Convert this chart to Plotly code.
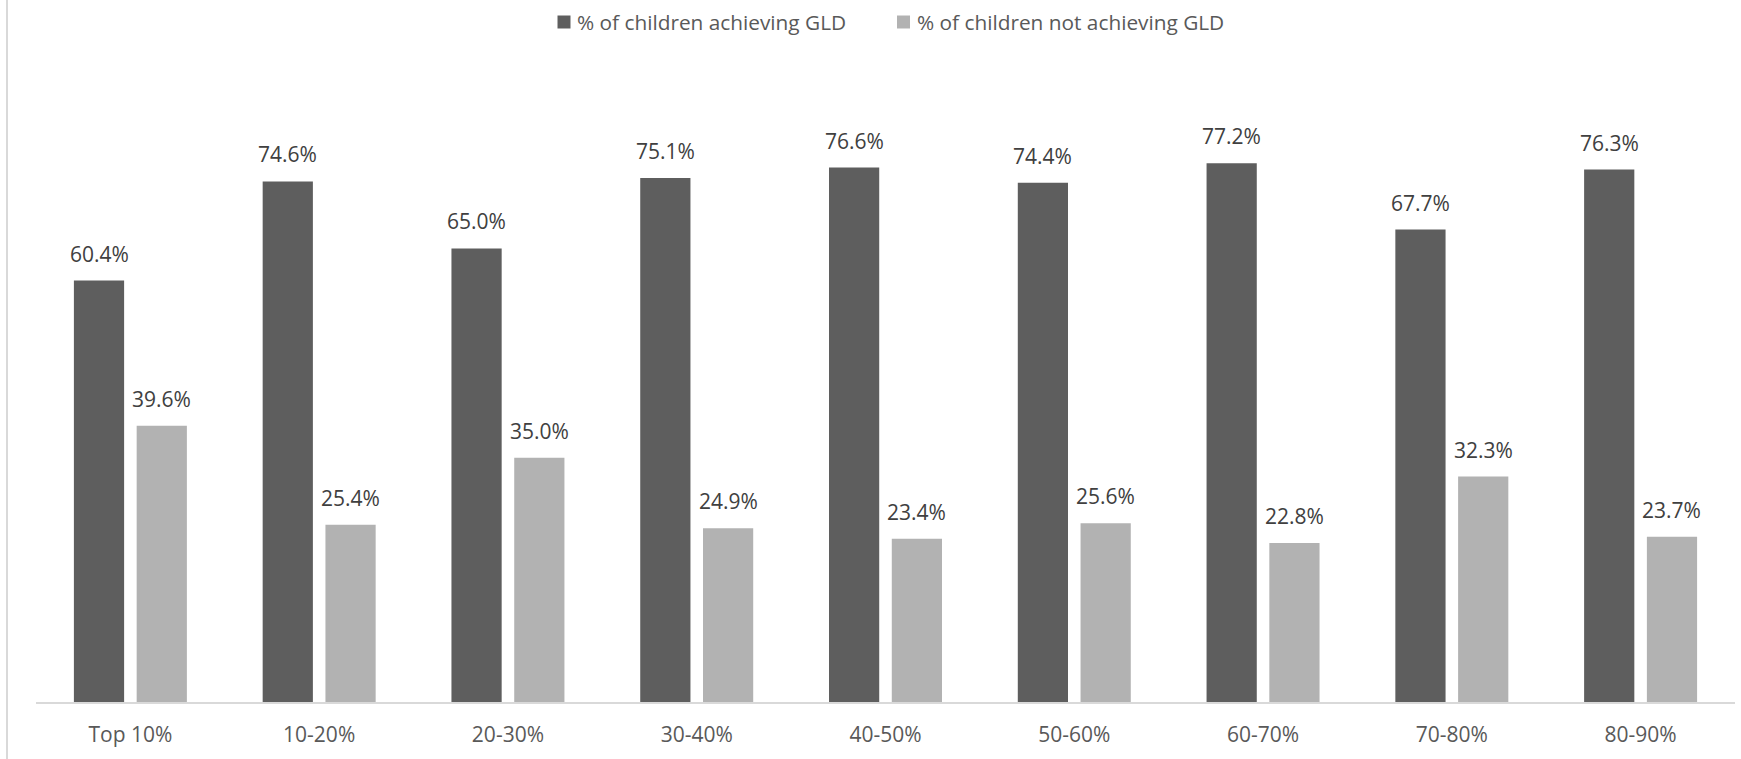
import plotly.graph_objects as go

categories = ["Top 10%", "10-20%", "20-30%", "30-40%", "40-50%", "50-60%", "60-70%", "70-80%", "80-90%"]
achieving = [60.4, 74.6, 65.0, 75.1, 76.6, 74.4, 77.2, 67.7, 76.3]
not_achieving = [39.6, 25.4, 35.0, 24.9, 23.4, 25.6, 22.8, 32.3, 23.7]
series_names = ["% of children achieving GLD", "% of children not achieving GLD"]
series_colors = ["#5e5e5e", "#b2b2b2"]

W, H = 1741, 759
ML, MR, MT, MB = 36, 6, 74, 57
FONT = "Open Sans"
plot_w = W - ML - MR
plot_h = H - MT - MB


def px_x(p):
    return (p - ML) / plot_w


def px_y(p):
    return (H - MB - p) / plot_h


fig = go.Figure()
for name, vals, col in zip(series_names, [achieving, not_achieving], series_colors):
    fig.add_trace(go.Bar(
        x=categories, y=vals, name=name,
        marker=dict(color=col, line=dict(width=0)),
        hoverinfo="x+y", showlegend=False,
    ))

# data labels above the bars
cat_w = plot_w / len(categories)
bargap = 0.335
slot = cat_w * (1 - bargap) / 2
for k, vals in enumerate([achieving, not_achieving]):
    off = (k - 0.5) * slot
    for c, v in zip(categories, vals):
        fig.add_annotation(
            x=c, y=v, xref="x", yref="y", text=f"{v:.1f}%",
            showarrow=False, xshift=off, yshift=27,
            font=dict(family=FONT, size=21, color="#404040"),
        )

# manual legend (square swatch + text)
legend_swatch_x = [557.5, 897.0]
legend_text_x = [575.0, 914.5]
for name, col, sx, tx in zip(series_names, series_colors, legend_swatch_x, legend_text_x):
    fig.add_shape(type="rect", xref="paper", yref="paper",
                  x0=px_x(sx), x1=px_x(sx + 13), y0=px_y(28.5), y1=px_y(15.5),
                  fillcolor=col, line=dict(width=0))
    fig.add_annotation(x=px_x(tx), y=px_y(22), xref="paper", yref="paper",
                       xanchor="left", yanchor="middle", showarrow=False,
                       text=name, font=dict(family=FONT, size=20.8, color="#595959"))

# left border line of chart area
fig.add_shape(type="line", xref="paper", yref="paper",
              x0=px_x(7), x1=px_x(7), y0=px_y(H), y1=px_y(0),
              line=dict(color="#d9d9d9", width=2))

fig.update_layout(
    width=W, height=H,
    margin=dict(l=ML, r=MR, t=MT, b=MB, pad=0),
    paper_bgcolor="white", plot_bgcolor="white",
    barmode="group", bargap=bargap, bargroupgap=0.2,
    font=dict(family=FONT, size=21, color="#595959"),
    showlegend=False,
    xaxis=dict(showgrid=False, showline=True, linecolor="#d9d9d9", linewidth=2,
               ticks="", tickfont=dict(family=FONT, size=21, color="#595959"),
               ticklabelstandoff=13),
    yaxis=dict(range=[0, 90], visible=False, showgrid=False, zeroline=False),
)

fig.write_html("out.html", config={"displayModeBar": False},
               post_script="document.body.style.margin='0';")
